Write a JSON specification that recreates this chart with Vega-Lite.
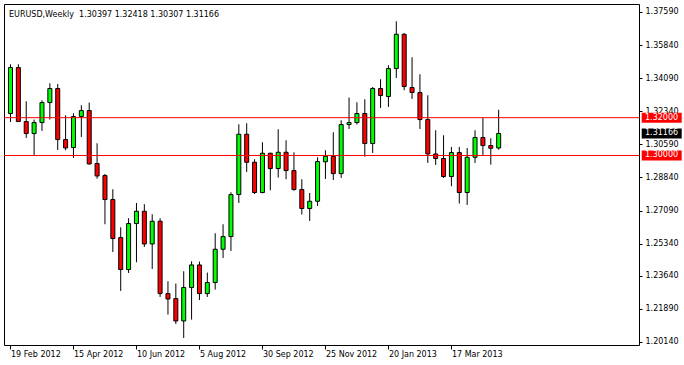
{
  "$schema": "https://vega.github.io/schema/vega-lite/v6.json",
  "width": 635,
  "height": 341,
  "autosize": {"type": "none"},
  "padding": {"left": 4, "top": 4, "right": 45, "bottom": 20},
  "background": "white",
  "config": {
    "view": {"stroke": "black", "strokeWidth": 1},
    "font": "DejaVu Sans",
    "axis": {"labelFont": "DejaVu Sans", "labelFontSize": 8, "labelColor": "black", "tickColor": "black", "grid": false, "title": null, "domain": false, "labelOverlap": false, "labelFlush": false}
  },
  "title": {
    "text": "EURUSD,Weekly\u00a0 1.30397 1.32418 1.30307 1.31166",
    "anchor": "start",
    "frame": "group",
    "offset": -21,
    "baseline": "alphabetic",
    "dx": 5,
    "fontSize": 8,
    "fontWeight": "normal",
    "color": "black",
    "font": "DejaVu Sans"
  },
  "datasets": {
    "candles": [
      {"d": "2012-02-19", "o": 1.32218, "h": 1.34824, "l": 1.31773, "c": 1.34650},
      {"d": "2012-02-26", "o": 1.34650, "h": 1.34824, "l": 1.31773, "c": 1.31794},
      {"d": "2012-03-04", "o": 1.31794, "h": 1.32868, "l": 1.30927, "c": 1.31160},
      {"d": "2012-03-11", "o": 1.31160, "h": 1.31900, "l": 1.29997, "c": 1.31742},
      {"d": "2012-03-18", "o": 1.31742, "h": 1.32921, "l": 1.31298, "c": 1.32799},
      {"d": "2012-03-25", "o": 1.32799, "h": 1.33820, "l": 1.31900, "c": 1.33540},
      {"d": "2012-04-01", "o": 1.33540, "h": 1.33783, "l": 1.30293, "c": 1.30843},
      {"d": "2012-04-08", "o": 1.30843, "h": 1.32128, "l": 1.30277, "c": 1.30399},
      {"d": "2012-04-15", "o": 1.30420, "h": 1.32234, "l": 1.29870, "c": 1.32059},
      {"d": "2012-04-22", "o": 1.32059, "h": 1.32657, "l": 1.30980, "c": 1.32376},
      {"d": "2012-04-29", "o": 1.32376, "h": 1.32799, "l": 1.29521, "c": 1.29553},
      {"d": "2012-05-06", "o": 1.29574, "h": 1.30647, "l": 1.28770, "c": 1.28918},
      {"d": "2012-05-13", "o": 1.28939, "h": 1.29024, "l": 1.26364, "c": 1.27670},
      {"d": "2012-05-20", "o": 1.27670, "h": 1.28215, "l": 1.24899, "c": 1.25608},
      {"d": "2012-05-27", "o": 1.25661, "h": 1.26205, "l": 1.22837, "c": 1.23968},
      {"d": "2012-06-03", "o": 1.23968, "h": 1.26681, "l": 1.23789, "c": 1.26401},
      {"d": "2012-06-10", "o": 1.26401, "h": 1.27490, "l": 1.24354, "c": 1.27051},
      {"d": "2012-06-17", "o": 1.27051, "h": 1.27422, "l": 1.25164, "c": 1.25322},
      {"d": "2012-06-24", "o": 1.25322, "h": 1.26893, "l": 1.24000, "c": 1.26523},
      {"d": "2012-07-01", "o": 1.26523, "h": 1.26681, "l": 1.22520, "c": 1.22699},
      {"d": "2012-07-08", "o": 1.22699, "h": 1.23350, "l": 1.21589, "c": 1.22413},
      {"d": "2012-07-15", "o": 1.22435, "h": 1.23228, "l": 1.21092, "c": 1.21250},
      {"d": "2012-07-22", "o": 1.21250, "h": 1.23879, "l": 1.20351, "c": 1.23017},
      {"d": "2012-07-29", "o": 1.23017, "h": 1.24407, "l": 1.21324, "c": 1.24212},
      {"d": "2012-08-05", "o": 1.24212, "h": 1.24392, "l": 1.22361, "c": 1.22699},
      {"d": "2012-08-12", "o": 1.22699, "h": 1.23810, "l": 1.22520, "c": 1.23281},
      {"d": "2012-08-19", "o": 1.23281, "h": 1.25888, "l": 1.22911, "c": 1.25042},
      {"d": "2012-08-26", "o": 1.25042, "h": 1.26364, "l": 1.24582, "c": 1.25713},
      {"d": "2012-09-02", "o": 1.25713, "h": 1.28056, "l": 1.24952, "c": 1.27934},
      {"d": "2012-09-09", "o": 1.27934, "h": 1.31652, "l": 1.27490, "c": 1.31123},
      {"d": "2012-09-16", "o": 1.31123, "h": 1.31705, "l": 1.29130, "c": 1.29642},
      {"d": "2012-09-23", "o": 1.29642, "h": 1.29801, "l": 1.27966, "c": 1.28040},
      {"d": "2012-09-30", "o": 1.28040, "h": 1.30700, "l": 1.28003, "c": 1.30118},
      {"d": "2012-10-07", "o": 1.30118, "h": 1.30145, "l": 1.28162, "c": 1.29309},
      {"d": "2012-10-14", "o": 1.29309, "h": 1.31387, "l": 1.28833, "c": 1.30171},
      {"d": "2012-10-21", "o": 1.30171, "h": 1.30806, "l": 1.28743, "c": 1.29203},
      {"d": "2012-10-28", "o": 1.29203, "h": 1.30171, "l": 1.28135, "c": 1.28199},
      {"d": "2012-11-04", "o": 1.28199, "h": 1.28743, "l": 1.26877, "c": 1.27194},
      {"d": "2012-11-11", "o": 1.27194, "h": 1.28019, "l": 1.26538, "c": 1.27580},
      {"d": "2012-11-18", "o": 1.27580, "h": 1.29907, "l": 1.27332, "c": 1.29679},
      {"d": "2012-11-25", "o": 1.29669, "h": 1.30277, "l": 1.28759, "c": 1.29960},
      {"d": "2012-12-02", "o": 1.29960, "h": 1.31229, "l": 1.28706, "c": 1.29045},
      {"d": "2012-12-09", "o": 1.29045, "h": 1.31863, "l": 1.28812, "c": 1.31636},
      {"d": "2012-12-16", "o": 1.31636, "h": 1.33064, "l": 1.31403, "c": 1.31742},
      {"d": "2012-12-23", "o": 1.31742, "h": 1.32815, "l": 1.31636, "c": 1.32218},
      {"d": "2012-12-30", "o": 1.32218, "h": 1.32974, "l": 1.29944, "c": 1.30631},
      {"d": "2013-01-06", "o": 1.30631, "h": 1.33624, "l": 1.30134, "c": 1.33540},
      {"d": "2013-01-13", "o": 1.33540, "h": 1.34032, "l": 1.32514, "c": 1.33170},
      {"d": "2013-01-20", "o": 1.33117, "h": 1.34772, "l": 1.32567, "c": 1.34597},
      {"d": "2013-01-27", "o": 1.34597, "h": 1.37099, "l": 1.34100, "c": 1.36411},
      {"d": "2013-02-03", "o": 1.36411, "h": 1.36464, "l": 1.33450, "c": 1.33646},
      {"d": "2013-02-10", "o": 1.33593, "h": 1.35195, "l": 1.32990, "c": 1.33328},
      {"d": "2013-02-17", "o": 1.33328, "h": 1.34296, "l": 1.31403, "c": 1.31900},
      {"d": "2013-02-24", "o": 1.31900, "h": 1.33185, "l": 1.29605, "c": 1.30081},
      {"d": "2013-03-03", "o": 1.30081, "h": 1.31335, "l": 1.29500, "c": 1.29838},
      {"d": "2013-03-10", "o": 1.29838, "h": 1.31070, "l": 1.28812, "c": 1.28886},
      {"d": "2013-03-17", "o": 1.28886, "h": 1.30452, "l": 1.28373, "c": 1.30155},
      {"d": "2013-03-24", "o": 1.30155, "h": 1.30452, "l": 1.27459, "c": 1.28040},
      {"d": "2013-03-31", "o": 1.28040, "h": 1.30399, "l": 1.27385, "c": 1.29907},
      {"d": "2013-04-07", "o": 1.29907, "h": 1.31335, "l": 1.29605, "c": 1.30949},
      {"d": "2013-04-14", "o": 1.30949, "h": 1.31985, "l": 1.29976, "c": 1.30526},
      {"d": "2013-04-21", "o": 1.30526, "h": 1.30912, "l": 1.29521, "c": 1.30383},
      {"d": "2013-04-28", "o": 1.30397, "h": 1.32418, "l": 1.30307, "c": 1.31166}
    ],
    "levels": [
      {"p": 1.32, "label": "1.32000", "kind": "level"},
      {"p": 1.30, "label": "1.30000", "kind": "level"},
      {"p": 1.31166, "label": "1.31166", "kind": "last"}
    ]
  },
  "layer": [
    {
      "data": {"name": "candles"},
      "mark": {"type": "rule", "color": "black", "strokeWidth": 1, "clip": true},
      "encoding": {
        "x": {
          "field": "d", "type": "temporal",
          "scale": {"type": "utc", "domain": [{"year": 2012, "month": 2, "date": 17, "hours": 16, "minutes": 30, "utc": true}, {"year": 2013, "month": 8, "date": 26, "hours": 7, "minutes": 30, "utc": true}]},
          "axis": {
            "values": [
              {"year": 2012, "month": 2, "date": 19, "utc": true},
              {"year": 2012, "month": 4, "date": 15, "utc": true},
              {"year": 2012, "month": 6, "date": 10, "utc": true},
              {"year": 2012, "month": 8, "date": 5, "utc": true},
              {"year": 2012, "month": 9, "date": 30, "utc": true},
              {"year": 2012, "month": 11, "date": 25, "utc": true},
              {"year": 2013, "month": 1, "date": 20, "utc": true},
              {"year": 2013, "month": 3, "date": 17, "utc": true}
            ],
            "labelExpr": "utcFormat(datum.value, '%-d %b %Y')",
            "labelAlign": "left", "labelBaseline": "top", "tickSize": 4, "labelPadding": 1
          }
        },
        "y": {
          "field": "l", "type": "quantitative",
          "scale": {"domain": [1.19979, 1.38011], "nice": false, "zero": false},
          "axis": {
            "orient": "right",
            "values": [1.2014, 1.2189, 1.2364, 1.2534, 1.2709, 1.2884, 1.3059, 1.3234, 1.3409, 1.3584, 1.3759],
            "format": ".5f", "tickSize": 3, "labelPadding": 3, "labelAlign": "left", "labelBaseline": "middle"
          }
        },
        "y2": {"field": "h"}
      }
    },
    {
      "data": {"name": "candles"},
      "mark": {"type": "bar", "size": 4, "stroke": "black", "strokeWidth": 1, "clip": true},
      "encoding": {
        "x": {
          "field": "d", "type": "temporal",
          "axis": {
            "values": [
              {"year": 2012, "month": 2, "date": 19, "utc": true},
              {"year": 2012, "month": 4, "date": 15, "utc": true},
              {"year": 2012, "month": 6, "date": 10, "utc": true},
              {"year": 2012, "month": 8, "date": 5, "utc": true},
              {"year": 2012, "month": 9, "date": 30, "utc": true},
              {"year": 2012, "month": 11, "date": 25, "utc": true},
              {"year": 2013, "month": 1, "date": 20, "utc": true},
              {"year": 2013, "month": 3, "date": 17, "utc": true}
            ],
            "labelExpr": "utcFormat(datum.value, '%-d %b %Y')",
            "labelAlign": "left", "labelBaseline": "top", "tickSize": 4, "labelPadding": 1
          }
        },
        "y": {
          "field": "o", "type": "quantitative",
          "axis": {
            "orient": "right",
            "values": [1.2014, 1.2189, 1.2364, 1.2534, 1.2709, 1.2884, 1.3059, 1.3234, 1.3409, 1.3584, 1.3759],
            "format": ".5f", "tickSize": 3, "labelPadding": 3, "labelAlign": "left", "labelBaseline": "middle"
          }
        },
        "y2": {"field": "c"},
        "fill": {"condition": {"test": "datum.c > datum.o", "value": "#00ff00"}, "value": "#ff0000"}
      }
    },
    {
      "data": {"name": "levels"},
      "transform": [{"filter": "datum.kind == 'level'"}],
      "mark": {"type": "rule", "color": "#ff0000", "strokeWidth": 1},
      "encoding": {
        "y": {
          "field": "p", "type": "quantitative",
          "axis": {
            "orient": "right",
            "values": [1.2014, 1.2189, 1.2364, 1.2534, 1.2709, 1.2884, 1.3059, 1.3234, 1.3409, 1.3584, 1.3759],
            "format": ".5f", "tickSize": 3, "labelPadding": 3, "labelAlign": "left", "labelBaseline": "middle"
          }
        }
      }
    },
    {
      "data": {"name": "levels"},
      "mark": {"type": "point", "shape": "M0.135,-0.25H2.135V0.25H0.135Z", "filled": true, "size": 1600, "opacity": 1, "strokeWidth": 0},
      "encoding": {
        "x": {"value": "width"},
        "y": {
          "field": "p", "type": "quantitative",
          "axis": {
            "orient": "right",
            "values": [1.2014, 1.2189, 1.2364, 1.2534, 1.2709, 1.2884, 1.3059, 1.3234, 1.3409, 1.3584, 1.3759],
            "format": ".5f", "tickSize": 3, "labelPadding": 3, "labelAlign": "left", "labelBaseline": "middle"
          }
        },
        "fill": {"condition": {"test": "datum.kind == 'last'", "value": "#000000"}, "value": "#ff0000"}
      }
    },
    {
      "data": {"name": "levels"},
      "mark": {"type": "text", "align": "left", "baseline": "middle", "dx": 6, "fontSize": 8, "font": "DejaVu Sans", "color": "white"},
      "encoding": {
        "x": {"value": "width"},
        "y": {
          "field": "p", "type": "quantitative",
          "axis": {
            "orient": "right",
            "values": [1.2014, 1.2189, 1.2364, 1.2534, 1.2709, 1.2884, 1.3059, 1.3234, 1.3409, 1.3584, 1.3759],
            "format": ".5f", "tickSize": 3, "labelPadding": 3, "labelAlign": "left", "labelBaseline": "middle"
          }
        },
        "text": {"field": "label"}
      }
    }
  ]
}
